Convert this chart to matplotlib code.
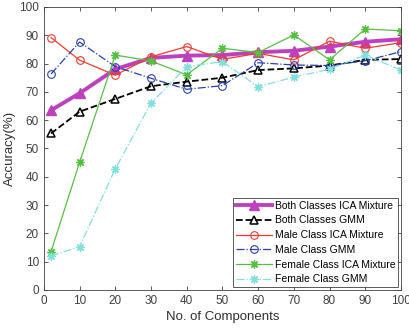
import matplotlib
matplotlib.use('Agg')
import matplotlib.pyplot as plt

plt.rcParams['font.family'] = ['Liberation Sans', 'DejaVu Sans']

# Data
components = [2, 10, 20, 30, 40, 50, 60, 70, 80, 90, 100]
both_ica = [63.5, 69.5, 78, 82, 82.8, 83, 84, 84.5, 86, 87.7, 88.6]
both_gmm = [55.3, 63, 67.5, 72, 73.6, 75, 77.7, 78.3, 79.3, 81.3, 81.6]
male_ica = [89.2, 81.2, 75.9, 82.4, 86, 81.5, 83.6, 81.3, 87.9, 85.4, 87.4]
male_gmm = [76.3, 87.6, 78.9, 74.8, 70.9, 72.2, 80.3, 79.5, 79.3, 81, 84.2]
female_ica = [13.5, 45.1, 83, 80.9, 76, 85.4, 83.9, 90.1, 81.3, 92.2, 91.6]
female_gmm = [12, 15.3, 42.8, 66, 78.9, 80.7, 71.8, 75.2, 78, 83, 77.7]

star = (8, 2, 0)

fig = plt.figure(figsize=(4.1, 3.31), dpi=100)
ax = fig.add_axes([0.107, 0.124, 0.871, 0.855])

ax.plot(components, both_ica, '-', marker='^', color='#bf40bf', lw=2.8, ms=7,
        label='Both Classes ICA Mixture')
ax.plot(components, both_gmm, '--', marker='^', color='black', lw=1.3, ms=6,
        mfc='none', mew=1.1, label='Both Classes GMM')
ax.plot(components, male_ica, '-', marker='o', color='#f03a2e', lw=0.9, ms=5.5,
        mfc='none', mew=0.8, label='Male Class ICA Mixture')
ax.plot(components, male_gmm, '-.', marker='o', color='#2a3fae', lw=0.9, ms=5.5,
        mfc='none', mew=0.8, label='Male Class GMM')
ax.plot(components, female_ica, '-', marker=star, color='#55c040', lw=0.9,
        ms=6, mew=0.9, label='Female Class ICA Mixture')
ax.plot(components, female_gmm, '-.', marker=star, color='#80e0dc', lw=0.9,
        ms=6, mew=0.9, label='Female Class GMM')

ax.set_xlim(0, 100)
ax.set_ylim(0, 100)
ax.set_xticks(range(0, 101, 10))
ax.set_yticks(range(0, 101, 10))
ax.tick_params(direction='in', top=True, right=True, labelsize=8.5,
               colors='#404040', length=3, width=0.6)
for s in ax.spines.values():
    s.set_color('#404040')
    s.set_linewidth(0.6)

ax.set_xlabel('No. of Components', fontsize=9.5, color='#303030', labelpad=3)
ax.set_ylabel('Accuracy(%)', fontsize=9.5, color='#303030', labelpad=2)

leg = ax.legend(loc='lower right', fontsize=7.5, frameon=True, fancybox=False,
                edgecolor='#303030', handlelength=3.4, handletextpad=0.3,
                labelspacing=0.45, borderpad=0.3, borderaxespad=0.25)
leg.get_frame().set_linewidth(0.7)

fig.savefig('out.png', dpi=100)
